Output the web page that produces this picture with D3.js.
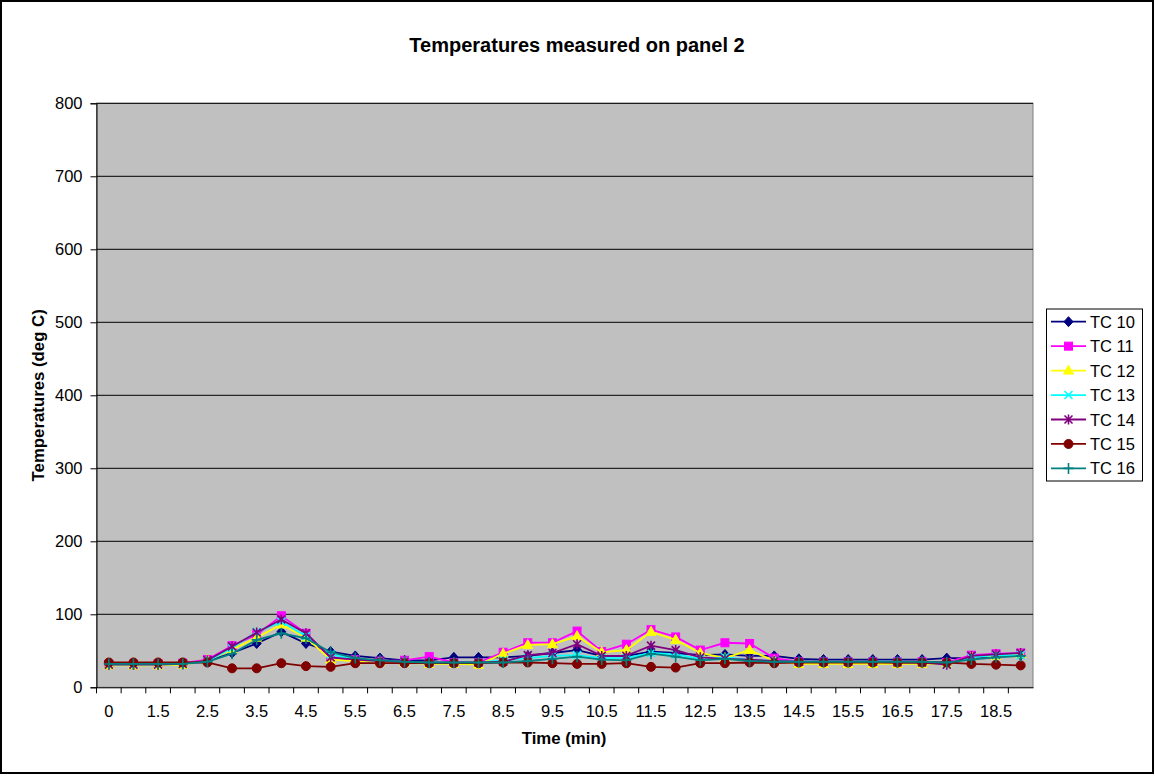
<!DOCTYPE html>
<html>
<head>
<meta charset="utf-8">
<script src="https://cdn.jsdelivr.net/npm/d3@7"></script>
<style>
    body { margin: 0; background: #fff; }
    text { font-family: "Liberation Sans", Arial, sans-serif; }
</style>
</head>
<body>
<svg id="chart" width="1155" height="776"></svg>
<script>

//  categories on the time axis (only every other one gets a label)
const times = ["0", "1", "1.5", "2", "2.5", "3", "3.5", "4", "4.5", "5", "5.5", "6", "6.5", "7", "7.5",
    "8", "8.5", "9", "9.5", "10", "10.5", "11", "11.5", "12", "12.5", "13", "13.5", "14", "14.5",
    "15", "15.5", "16", "16.5", "17", "17.5", "18", "18.5", "19"];

const yTicks = [0, 100, 200, 300, 400, 500, 600, 700, 800];

const seriesNames = ["TC 10", "TC 11", "TC 12", "TC 13", "TC 14", "TC 15", "TC 16"];

const tc10 = [32, 32, 32, 33, 36, 47, 60, 76, 60, 49, 43, 40, 37, 37, 41, 41, 41, 43, 47, 51, 43, 43, 49, 47, 44, 45, 43, 43, 39, 38, 38, 38, 38, 38, 40, 40, 43, 44];
const tc11 = [31, 31, 32, 33, 38, 57, 72, 98, 74, 40, 38, 36, 37, 42, 34, 34, 48, 61, 61, 77, 49, 59, 79, 69, 51, 61, 60, 40, 35, 35, 35, 35, 35, 35, 34, 44, 46, 47];
const tc12 = [30, 30, 30, 31, 37, 52, 68, 86, 68, 38, 36, 35, 34, 32, 32, 31, 46, 58, 59, 70, 48, 51, 76, 65, 47, 40, 51, 36, 32, 32, 32, 32, 32, 32, 32, 42, 43, 45];
const tc13 = [31, 31, 31, 32, 36, 54, 76, 90, 70, 45, 38, 36, 35, 34, 34, 34, 37, 40, 43, 44, 40, 40, 47, 45, 39, 41, 38, 36, 35, 35, 35, 35, 35, 34, 32, 41, 44, 44];
const tc14 = [31, 31, 31, 32, 37, 56, 75, 93, 74, 41, 38, 36, 35, 34, 34, 34, 35, 44, 47, 59, 43, 43, 57, 51, 41, 39, 38, 36, 35, 35, 35, 35, 34, 34, 31, 43, 45, 47];
const tc15 = [34, 34, 34, 34, 34, 26, 26, 33, 29, 28, 33, 33, 33, 33, 33, 33, 34, 34, 33, 32, 32, 33, 28, 27, 33, 33, 34, 33, 34, 34, 34, 34, 34, 34, 34, 32, 31, 30];
const tc16 = [32, 32, 32, 32, 35, 46, 65, 74, 67, 48, 40, 37, 35, 34, 34, 34, 34, 36, 39, 42, 38, 37, 46, 42, 37, 39, 36, 35, 35, 35, 35, 35, 35, 35, 34, 38, 41, 43];

const seriesValues = [tc10, tc11, tc12, tc13, tc14, tc15, tc16];
const seriesColors = ["#000080", "#FF00FF", "#FFFF00", "#00FFFF", "#800080", "#800000", "#008080"];
const seriesMarkers = ["diamond", "square", "triangle", "cross", "star", "circle", "plus"];

const svg = d3.select("#chart");

//  plot area, as in the Excel original
const plot = {left: 96.5, right: 1033, top: 103.3, bottom: 687.3};
const labelSize = 16.5;

const x = d3.scaleBand()
    .domain(times)
    .range([plot.left, plot.right])
    .paddingInner(0)
    .paddingOuter(0);

const y = d3.scaleLinear()
    .domain([0, 800])
    .range([plot.bottom, plot.top]);

//  outer chart border
svg.append("rect")
    .attr("x", 1).attr("y", 1)
    .attr("width", 1152).attr("height", 772)
    .attr("fill", "#fff")
    .attr("stroke", "#000")
    .attr("stroke-width", 2);

svg.append("text")
    .attr("x", 577).attr("y", 52)
    .attr("text-anchor", "middle")
    .attr("font-size", 20)
    .attr("font-weight", "bold")
    .text("Temperatures measured on panel 2");

svg.append("rect")
    .attr("x", plot.left).attr("y", plot.top)
    .attr("width", plot.right - plot.left)
    .attr("height", plot.bottom - plot.top)
    .attr("fill", "#C0C0C0")
    .attr("stroke", "#808080")
    .attr("stroke-width", 1);

//  gridlines
svg.append("g")
    .selectAll("line")
    .data(yTicks.filter(d => d > 0))
    .join("line")
    .attr("x1", plot.left).attr("x2", plot.right)
    .attr("y1", d => y(d)).attr("y2", d => y(d))
    .attr("stroke", "#000")
    .attr("stroke-width", 1);

//  y axis
const yAxis = svg.append("g")
    .attr("transform", `translate(${plot.left},0)`)
    .call(d3.axisLeft(y).tickValues(yTicks).tickSize(6).tickPadding(8));
yAxis.select(".domain").attr("stroke", "#000");
yAxis.selectAll("text").attr("font-size", labelSize).attr("font-family", "Liberation Sans, Arial, sans-serif").attr("fill", "#000");

//  x axis: ticks between categories, label every other category
const xAxis = svg.append("g")
    .attr("transform", `translate(0,${plot.bottom})`)
    .call(d3.axisBottom(x).tickSize(0).tickPadding(18)
        .tickFormat((d, i) => i % 2 === 0 ? d : ""));
xAxis.select(".domain").attr("stroke", "#000");
xAxis.selectAll("text").attr("font-size", labelSize).attr("font-family", "Liberation Sans, Arial, sans-serif").attr("fill", "#000");

svg.append("g")
    .selectAll("line")
    .data(times)
    .join("line")
    .attr("x1", d => x(d)).attr("x2", d => x(d))
    .attr("y1", plot.bottom).attr("y2", plot.bottom + 6)
    .attr("stroke", "#000");

//  axis titles
svg.append("text")
    .attr("x", 564).attr("y", 744)
    .attr("text-anchor", "middle")
    .attr("font-size", 16.8)
    .attr("font-weight", "bold")
    .text("Time (min)");

svg.append("text")
    .attr("transform", `translate(44,${(plot.top + plot.bottom) / 2}) rotate(-90)`)
    .attr("text-anchor", "middle")
    .attr("font-size", 16.8)
    .attr("font-weight", "bold")
    .text("Temperatures (deg C)");

/**
 * Draw one marker of the given kind at (cx, cy).
 */
function drawMarker(g, kind, color, cx, cy) {
    if (kind === "diamond") {
        g.append("path").attr("d", `M${cx},${cy - 5}L${cx + 4.5},${cy}L${cx},${cy + 5}L${cx - 4.5},${cy}Z`)
            .attr("fill", color).attr("stroke", color);
    } else if (kind === "square") {
        g.append("rect").attr("x", cx - 4).attr("y", cy - 4).attr("width", 8).attr("height", 8)
            .attr("fill", color).attr("stroke", color);
    } else if (kind === "triangle") {
        g.append("path").attr("d", `M${cx},${cy - 5.5}L${cx + 5},${cy + 3.5}L${cx - 5},${cy + 3.5}Z`)
            .attr("fill", color).attr("stroke", color);
    } else if (kind === "circle") {
        g.append("circle").attr("cx", cx).attr("cy", cy).attr("r", 4.5)
            .attr("fill", color).attr("stroke", color);
    } else if (kind === "cross") {
        g.append("path").attr("d", `M${cx - 4},${cy - 4}L${cx + 4},${cy + 4}M${cx - 4},${cy + 4}L${cx + 4},${cy - 4}`)
            .attr("fill", "none").attr("stroke", color).attr("stroke-width", 1.6);
    } else if (kind === "star") {
        g.append("path").attr("d", `M${cx - 4},${cy - 4}L${cx + 4},${cy + 4}M${cx - 4},${cy + 4}L${cx + 4},${cy - 4}M${cx},${cy - 5}L${cx},${cy + 5}`)
            .attr("fill", "none").attr("stroke", color).attr("stroke-width", 1.6);
    } else if (kind === "plus") {
        g.append("path").attr("d", `M${cx - 5},${cy}L${cx + 5},${cy}M${cx},${cy - 5.5}L${cx},${cy + 5.5}`)
            .attr("fill", "none").attr("stroke", color).attr("stroke-width", 1.6);
    }
}

const line = d3.line()
    .x((d, i) => x(times[i]) + x.bandwidth() / 2)
    .y(d => y(d));

seriesValues.forEach((vals, s) => {
    const g = svg.append("g");
    g.append("path")
        .attr("d", line(vals))
        .attr("fill", "none")
        .attr("stroke", seriesColors[s])
        .attr("stroke-width", 1.8);
    vals.forEach((v, i) => {
        drawMarker(g, seriesMarkers[s], seriesColors[s], x(times[i]) + x.bandwidth() / 2, y(v));
    });
});

//  legend
const legend = svg.append("g");
legend.append("rect")
    .attr("x", 1046.5).attr("y", 309)
    .attr("width", 96).attr("height", 172)
    .attr("fill", "#fff")
    .attr("stroke", "#000");

seriesNames.forEach((name, s) => {
    const ly = 321.7 + s * 24.45;
    legend.append("line")
        .attr("x1", 1051).attr("x2", 1086)
        .attr("y1", ly).attr("y2", ly)
        .attr("stroke", seriesColors[s])
        .attr("stroke-width", 1.8);
    drawMarker(legend, seriesMarkers[s], seriesColors[s], 1068.5, ly);
    legend.append("text")
        .attr("x", 1090).attr("y", ly + 6)
        .attr("font-size", labelSize)
        .text(name);
});

</script>
</body>
</html>
